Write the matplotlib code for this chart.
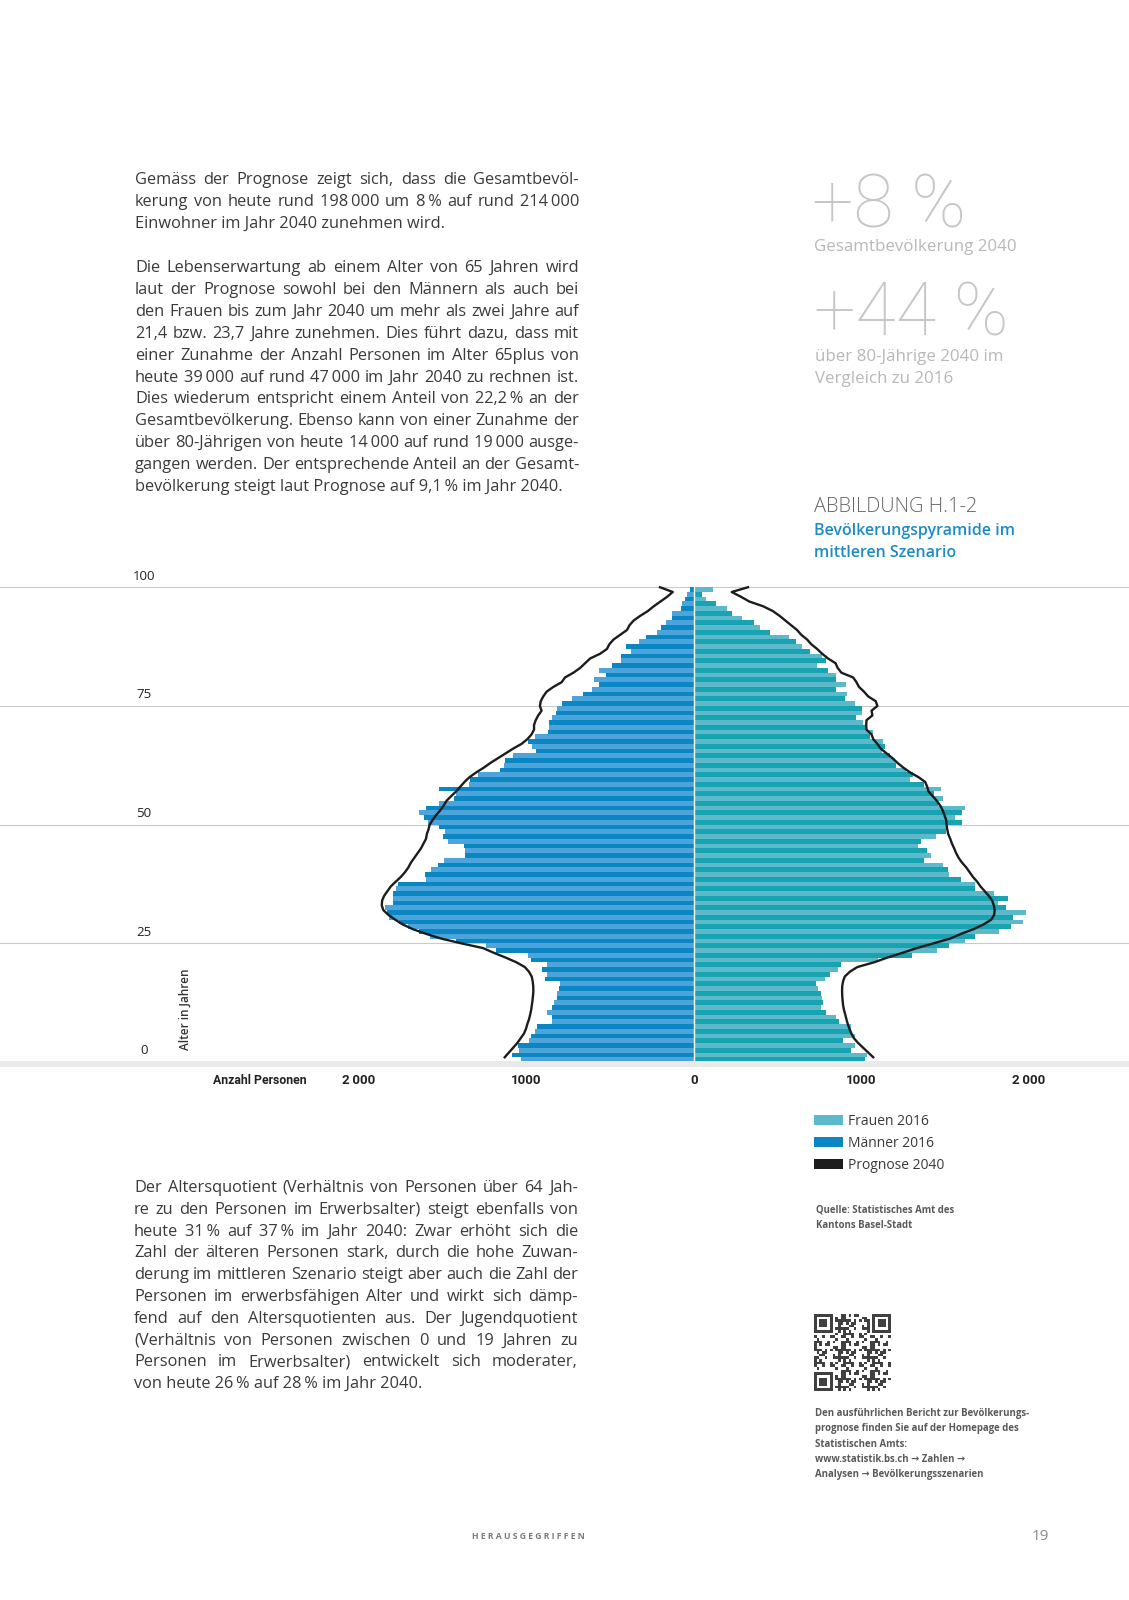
import numpy as np
import matplotlib
matplotlib.use('Agg')
import matplotlib.pyplot as plt
from matplotlib.patches import Patch

plt.rcParams['font.family'] = ['Open Sans', 'DejaVu Sans']

W, H = 1129, 1600

# --- data: age 0..99 ---
ages = np.arange(100)
maenner_2016 = [1030, 1085, 1045, 1050, 985, 975, 950, 940, 850, 850,
                880, 845, 835, 820, 820, 805, 800, 890, 875, 905,
                875, 975, 990, 1180, 1240, 1420, 1575, 1640, 1705, 1760,
                1820, 1830, 1845, 1800, 1795, 1800, 1780, 1770, 1600, 1605,
                1570, 1530, 1495, 1370, 1365, 1375, 1470, 1500, 1485, 1520,
                1590, 1610, 1640, 1600, 1520, 1430, 1420, 1520, 1345, 1335,
                1290, 1160, 1135, 1130, 1080, 945, 965, 990, 950, 870,
                865, 865, 850, 825, 820, 790, 726, 663, 607, 567,
                597, 527, 567, 488, 438, 438, 378, 408, 328, 289,
                219, 199, 169, 133, 133, 80, 74, 54, 40, 26]
frauen_2016 = [1020, 1030, 940, 960, 890, 960, 935, 935, 865, 850,
               790, 760, 770, 765, 760, 740, 730, 780, 810, 860,
               880, 1100, 1300, 1450, 1520, 1620, 1680, 1820, 1890, 1965,
               1905, 1985, 1865, 1815, 1875, 1790, 1675, 1675, 1595, 1520,
               1515, 1485, 1375, 1415, 1390, 1335, 1355, 1445, 1505, 1505,
               1600, 1560, 1600, 1615, 1455, 1485, 1435, 1475, 1375, 1290,
               1305, 1265, 1205, 1200, 1170, 1120, 1140, 1130, 1050, 1070,
               1025, 1010, 970, 1000, 1000, 963, 899, 915, 850, 909,
               846, 850, 800, 736, 786, 766, 690, 647, 611, 565,
               452, 396, 356, 287, 229, 197, 129, 70, 50, 113]
# Prognose 2040, one value per year of age (drawn at the upper edge of each age bar)
maenner_2040 = [1130, 1105, 1080, 1055, 1035, 1015, 1003, 995, 985, 978,
                972, 968, 964, 961, 959, 960, 963, 969, 985, 1010,
                1060, 1125, 1195, 1260, 1390, 1510, 1600, 1680, 1740, 1785,
                1825, 1855, 1864, 1862, 1850, 1830, 1810, 1780, 1750, 1725,
                1705, 1690, 1670, 1650, 1630, 1615, 1600, 1595, 1585, 1578,
                1560, 1540, 1515, 1495, 1478, 1450, 1420, 1395, 1370, 1340,
                1300, 1255, 1215, 1170, 1125, 1080, 1030, 995, 970, 955,
                955, 945, 930, 910, 920, 915, 900, 880, 840, 790,
                770, 720, 680, 650, 620, 560, 520, 505, 480, 440,
                400, 385, 360, 320, 275, 240, 200, 160, 127, 203]
frauen_2040 = [1070, 1040, 1010, 980, 955, 940, 928, 918, 910, 903,
               895, 890, 887, 885, 884, 885, 890, 900, 930, 975,
               1075, 1155, 1245, 1330, 1430, 1530, 1595, 1670, 1730, 1775,
               1792, 1795, 1790, 1780, 1760, 1735, 1710, 1690, 1665, 1645,
               1625, 1600, 1580, 1565, 1553, 1540, 1530, 1518, 1512, 1508,
               1505, 1495, 1485, 1470, 1450, 1425, 1400, 1392, 1380, 1340,
               1290, 1250, 1215, 1185, 1150, 1115, 1095, 1070, 1060, 1030,
               1028, 1030, 1065, 1060, 1095, 1085, 1040, 1015, 985, 970,
               950, 880, 858, 845, 800, 765, 735, 700, 675, 640,
               615, 580, 545, 510, 470, 412, 330, 280, 225, 322]

age_ticks = [0, 25, 50, 75, 100]
x_ticks = [-2000, -1000, 0, 1000, 2000]
x_ticklabels = ['2\u2009000', '1000', '0', '1000', '2\u2009000']
legend_labels = ['Frauen 2016', 'Männer 2016', 'Prognose 2040']

p1 = ["Gemäss der Prognose zeigt sich, dass die Gesamtbevöl-",
      "kerung von heute rund 198\u2009000 um 8\u2009% auf rund 214\u2009000",
      "Einwohner im Jahr 2040 zunehmen wird."]
p2 = ["Die Lebenserwartung ab einem Alter von 65 Jahren wird",
      "laut der Prognose sowohl bei den Männern als auch bei",
      "den Frauen bis zum Jahr 2040 um mehr als zwei Jahre auf",
      "21,4 bzw. 23,7 Jahre zunehmen. Dies führt dazu, dass mit",
      "einer Zunahme der Anzahl Personen im Alter 65plus von",
      "heute 39\u2009000 auf rund 47\u2009000 im Jahr 2040 zu rechnen ist.",
      "Dies wiederum entspricht einem Anteil von 22,2\u2009% an der",
      "Gesamtbevölkerung. Ebenso kann von einer Zunahme der",
      "über 80-Jährigen von heute 14\u2009000 auf rund 19\u2009000 ausge-",
      "gangen werden. Der entsprechende Anteil an der Gesamt-",
      "bevölkerung steigt laut Prognose auf 9,1\u2009% im Jahr 2040."]
p3 = ["Der Altersquotient (Verhältnis von Personen über 64 Jah-",
      "re zu den Personen im Erwerbsalter) steigt ebenfalls von",
      "heute 31\u2009% auf 37\u2009% im Jahr 2040: Zwar erhöht sich die",
      "Zahl der älteren Personen stark, durch die hohe Zuwan-",
      "derung im mittleren Szenario steigt aber auch die Zahl der",
      "Personen im erwerbsfähigen Alter und wirkt sich dämp-",
      "fend auf den Altersquotienten aus. Der Jugendquotient",
      "(Verhältnis von Personen zwischen 0 und 19 Jahren zu",
      "Personen im Erwerbsalter) entwickelt sich moderater,",
      "von heute 26\u2009% auf 28\u2009% im Jahr 2040."]

c_m_dark, c_m_light = '#0a86c2', '#4da4da'
c_f_dark, c_f_light = '#17a3b2', '#5cb9c9'
c_line = '#1c1c1c'
c_text = '#3a3a3a'


def px(x, y):
    return x / W, 1 - y / H


fig = plt.figure(figsize=(W / 100, H / 100), dpi=100)
fig.patch.set_facecolor('white')
renderer = fig.canvas.get_renderer()


def justified(lines, x0, x1, y0, dy, size):
    for i, line in enumerate(lines):
        y = y0 + i * dy
        if i == len(lines) - 1:
            fig.text(*px(x0, y), line, fontsize=size, color=c_text, va='baseline')
            continue
        words = line.split(' ')
        texts = [fig.text(0, 0, w, fontsize=size, color=c_text, va='baseline') for w in words]
        widths = [t.get_window_extent(renderer).width for t in texts]
        gap = (x1 - x0 - sum(widths)) / (len(words) - 1)
        x = x0
        for t, w in zip(texts, widths):
            t.set_position(px(x, y))
            x += w + gap


justified(p1, 135, 579, 184, 21.9, 11.8)
justified(p2, 135, 579, 272, 21.9, 11.8)
justified(p3, 134, 578, 1192, 21.8, 11.8)

# key figures on the right
big = dict(fontsize=53, color='#c6c6c6', fontweight='light', va='baseline',
           family=['Roboto', 'DejaVu Sans'])
fig.text(*px(812, 227), '+8 %', **big)
fig.text(*px(814, 335), '+44 %', **big)
sub = dict(fontsize=12.2, color='#b8b8b8', va='baseline')
fig.text(*px(814, 251), 'Gesamtbevölkerung 2040', **sub)
fig.text(*px(815, 361), 'über 80-Jährige 2040 im', **sub)
fig.text(*px(815, 383), 'Vergleich zu 2016', **sub)

fig.text(*px(814, 512), 'ABBILDUNG H.1-2', fontsize=14.4, color='#666666',
         fontweight='light', va='baseline')
fig.text(*px(814, 535), 'Bevölkerungspyramide im', fontsize=11.5, color='#1d8cc6',
         fontweight='semibold', va='baseline')
fig.text(*px(814, 557), 'mittleren Szenario', fontsize=11.5, color='#1d8cc6',
         fontweight='semibold', va='baseline')

# --- pyramid ---
y_top, y_bot = 582.5, 1071.5   # pixel rows of ages 101 and -2
ax = fig.add_axes([0, 1 - y_bot / H, 1, (y_bot - y_top) / H])
ax.set_xlim(-694 / 167.5 * 1000, (W - 694) / 167.5 * 1000)
ax.set_ylim(-2, 101)
ax.axis('off')

men_cols = [c_m_dark if a % 2 else c_m_light for a in ages]
wom_cols = [c_f_light if a % 2 else c_f_dark for a in ages]
ax.barh(ages + 0.5, -np.array(maenner_2016), height=1.0, color=men_cols,
        linewidth=0, antialiased=False, zorder=2)
ax.barh(ages + 0.5, frauen_2016, height=1.0, color=wom_cols,
        linewidth=0, antialiased=False, zorder=2)
ax.axvline(0, color='white', lw=1.0, zorder=3)
ax.plot(-np.array(maenner_2040), ages + 1, color=c_line, lw=1.7, zorder=4,
        solid_joinstyle='round')
ax.plot(frauen_2040, ages + 1, color=c_line, lw=1.7, zorder=4,
        solid_joinstyle='round')

for a in age_ticks[1:]:
    ax.axhline(a, color='#c9c9c9', lw=0.8, zorder=1)
ax.axhspan(-0.95, 0.3, color='#e9e9e9', lw=0, zorder=5)

for a in age_ticks:
    yy = 1062 - a * 4.75 - 11
    fig.text(*px(144, yy), str(a), fontsize=9.5, color='#222222',
             ha='center', va='center')

fig.text(*px(185, 1009), 'Alter in Jahren', fontsize=8.5, fontweight='semibold',
         color='#333333', rotation=90, ha='center', va='center')
fig.text(*px(260, 1081), 'Anzahl Personen', fontsize=8.8, fontweight='semibold',
         color='#222222', ha='center', va='center',
         family=['Roboto', 'DejaVu Sans'])
for v, lab in zip(x_ticks, x_ticklabels):
    xx = 694 + v * 0.1675
    fig.text(*px(xx, 1081), lab, fontsize=9.5, fontweight='semibold',
             color='#222222', ha='center', va='center',
             family=['Roboto', 'DejaVu Sans'])

handles = [Patch(facecolor=c_f_light, edgecolor='none'),
           Patch(facecolor=c_m_dark, edgecolor='none'),
           Patch(facecolor=c_line, edgecolor='none')]
fig.legend(handles, legend_labels, loc='upper left', bbox_to_anchor=px(814, 1114),
           frameon=False, fontsize=10, handlelength=2.1, handleheight=0.7,
           handletextpad=0.35, labelspacing=0.5, borderaxespad=0, borderpad=0,
           labelcolor='#3a3a3a')

fig.text(*px(816, 1213), 'Quelle: Statistisches Amt des', fontsize=6.9,
         fontweight='bold', color='#5a5a5a', va='baseline')
fig.text(*px(816, 1228), 'Kantons Basel-Stadt', fontsize=6.9,
         fontweight='bold', color='#5a5a5a', va='baseline')

# QR code (decorative)
n = 29
i, j = np.indices((n, n))
qr = (((i * i * 3 + j * j * 5 + i * j * 7 + i + 2 * j) % 11) < 5).astype(float)
for r0, c0 in [(0, 0), (0, n - 7), (n - 7, 0)]:
    r1, c1 = max(r0 - 1, 0), max(c0 - 1, 0)
    qr[r1:r0 + 8, c1:c0 + 8] = 0
    block = np.ones((7, 7))
    block[1:6, 1:6] = 0
    block[2:5, 2:5] = 1
    qr[r0:r0 + 7, c0:c0 + 7] = block
qax = fig.add_axes([814 / W, 1 - 1391 / H, 77 / W, 77 / H])
qax.imshow(qr, cmap='Greys', vmin=0, vmax=1.25, interpolation='nearest')
qax.axis('off')

note = ["Den ausführlichen Bericht zur Bevölkerungs-",
        "prognose finden Sie auf der Homepage des",
        "Statistischen Amts:",
        "www.statistik.bs.ch \u2192 Zahlen \u2192",
        "Analysen \u2192 Bevölkerungsszenarien"]
for k, line in enumerate(note):
    fig.text(*px(815, 1416 + k * 15.3), line, fontsize=6.9, fontweight='bold',
             color='#5a5a5a', va='baseline')

fig.text(*px(528, 1539), 'H E R A U S G E G R I F F E N', fontsize=6.2,
         fontweight='bold', color='#7a7a7a', ha='center', va='baseline')
fig.text(*px(1040, 1540), '19', fontsize=11, color='#8a8a8a',
         ha='center', va='baseline')

fig.savefig('out.png', dpi=100, facecolor='white')
